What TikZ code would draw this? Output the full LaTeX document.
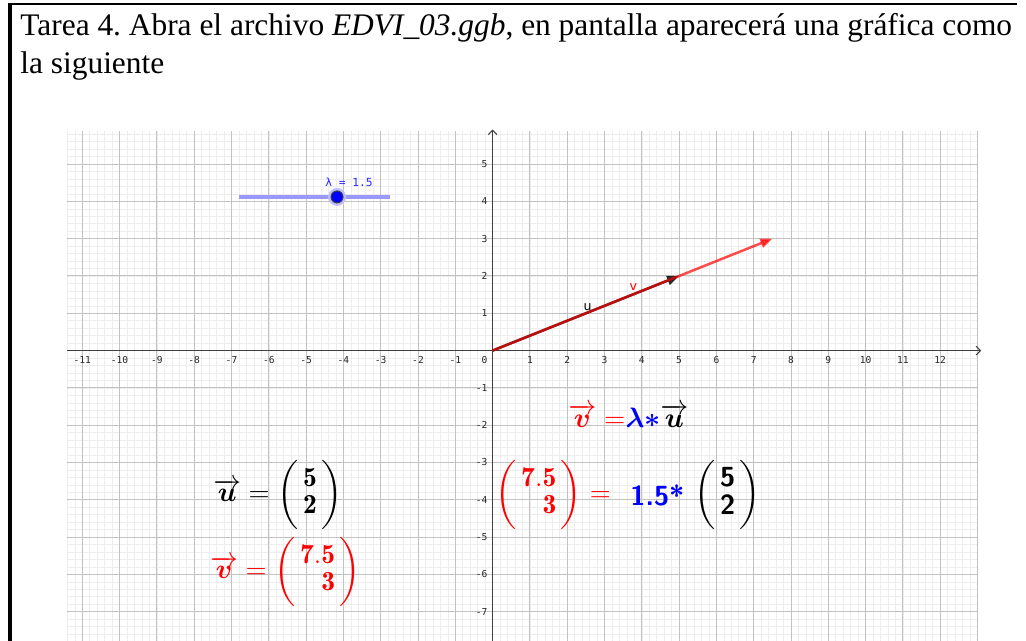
\RequirePackage{fix-cm}
\documentclass[tikz,border=0pt]{standalone}
\usepackage{amsmath,bm}
\usepackage{fontspec}
\newfontfamily\timesfont{Liberation Serif}
\newfontfamily\ggbmono{DejaVu Sans Mono}
\newfontfamily\ggbsans{DejaVu Sans}
\usetikzlibrary{arrows.meta}
\frenchspacing
% vector columna con parentesis grandes
\newcommand{\colvec}[3][c]{\left(\vrule height19pt depth12.5pt width0pt
  \begin{array}{@{\,}#1@{\,}}#2\\#3\end{array}\right)}

\begin{document}
\begin{tikzpicture}[x=0.5pt,y=0.5pt,
  minorgrid/.style={draw=black!7,line width=0.3pt},
  majorgrid/.style={draw=black!24,line width=0.5pt},
  axisline/.style={draw=black!75,line width=0.55pt,-{Straight Barb[length=2.2pt,width=4.4pt]}},
  axlbl/.style={font=\ggbmono\fontsize{4.8}{5}\selectfont,text=black!85,inner sep=0pt},
  vecarrow/.style={line width=1.25pt,-{Triangle[length=6pt,width=4.6pt]}},
  veclbl/.style={font=\ggbsans\fontsize{6.3}{7}\selectfont,inner sep=0pt},
  mathlbl/.style={font=\fontsize{13.8}{13.5}\selectfont,inner sep=0pt,anchor=west}]
\useasboundingbox (0,0) rectangle (1026,641);
% marco de la tarea
\draw[line width=1pt] (8,636.5) -- (1017,636.5);
\draw[line width=2pt] (10,637.5) -- (10,0);
\node[anchor=base west,inner sep=0pt,font=\timesfont\fontsize{15.7}{19}\selectfont] (tarea) at (20,605.3)
  {Tarea 4. Abra el archivo \textit{EDVI\_03.ggb}, en pantalla aparecerá una gráfica como};
\node[anchor=base west,inner sep=0pt,font=\timesfont\fontsize{15.7}{19}\selectfont] (sig) at (20,567) {la siguiente};

% vista grafica
\begin{scope}[shift={(492.6,290.4)},x=18.65pt,y=18.65pt]
  \draw[minorgrid,step=0.2] (-11.4,-7.79) grid (13,5.89);
  \draw[majorgrid,step=1] (-11.4,-7.79) grid (13,5.89);
  \draw[axisline] (-11.4,0) -- (13.1,0);
  \draw[axisline] (0,-7.79) -- (0,5.93);
  \foreach \i in {-11,...,-1,1,2,...,12}
    \node[axlbl] (xl\i) at (\i,-0.26) {\i};
  \foreach \j in {-7,...,-1,1,2,...,5}
    \node[axlbl,anchor=east] (yl\j) at (-0.13,\j) {\j};
  \node[axlbl,anchor=east] (cero) at (-0.13,-0.26) {0};

  % deslizador lambda
  \coordinate (slA) at (-6.81,4.12);
  \coordinate (slB) at (-2.76,4.12);
  \draw[blue!40,line width=2pt] (slA) -- (slB);
  \fill[blue!25] (-4.17,4.12) circle (4.5pt);
  \node[circle,fill=blue,draw=black!75,line width=0.5pt,minimum size=6pt,inner sep=0pt] (lam) at (-4.17,4.12) {};
  \node[font=\ggbmono\fontsize{5.6}{6}\selectfont,text=blue!85,inner sep=0pt] (lamlbl) at (-3.85,4.52) {λ = 1.5};

  % vectores u y v
  \coordinate (O) at (0,0);
  \coordinate (U) at (5,2);
  \coordinate (V) at (7.5,3);
  \draw[vecarrow,black!85] (O) -- (U);
  \draw[vecarrow,red,opacity=0.7] (O) -- (V);
  \node[veclbl] (ulbl) at (2.55,1.17) {u};
  \node[veclbl,text=red] (vlbl) at (3.77,1.7) {v};
\end{scope}

% expresiones
\node[mathlbl] (ueq) at (213,146)
  {$\overrightarrow{\bm u} = \colvec{\mathbf 5}{\mathbf 2}$};
\node[mathlbl,text=red] (veq) at (210,69.5)
  {$\overrightarrow{\bm v} = \colvec[r]{\mathbf{7.5}}{\mathbf 3}$};
\node[mathlbl,font=\fontsize{14}{15}\selectfont] (rel) at (568,225)
  {${\color{red}\overrightarrow{\bm v}=}{\color{blue}\bm{\lambda\ast}}\overrightarrow{\bm u}$};
\node[mathlbl,text=red] (calcv) at (495,146)
  {$\colvec[r]{\mathbf{7.5}}{\mathbf 3} =$};
\node[mathlbl,text=blue,font=\fontsize{13.8}{13.5}\sffamily\bfseries] (escalar) at (630,146) {1.5*};
\node[mathlbl] (calcu) at (694,146)
  {$\colvec{\textsf{\textbf{5}}}{\textsf{\textbf{2}}}$};
\end{tikzpicture}
\end{document}
